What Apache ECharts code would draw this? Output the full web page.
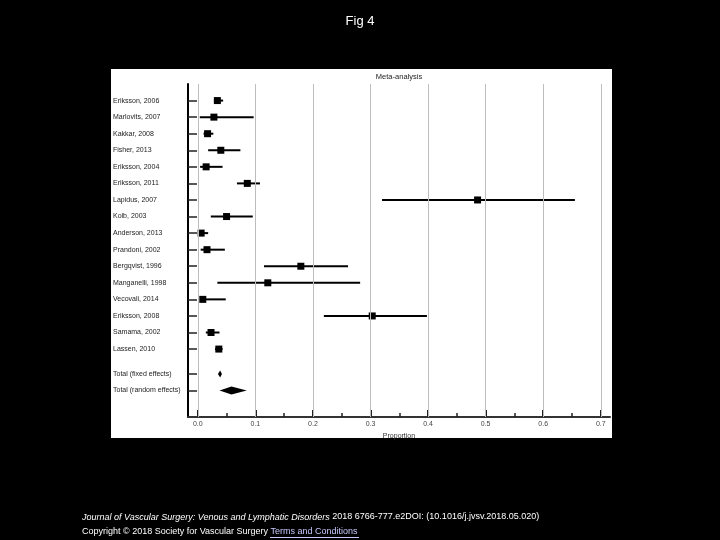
<!DOCTYPE html>
<html>
<head>
<meta charset="utf-8">
<script src="https://cdn.jsdelivr.net/npm/echarts@6/dist/echarts.min.js"></script>
<style>
html,body{margin:0;padding:0;background:#000;}
#c{width:720px;height:540px;}
</style>
</head>
<body>
<div id="c"></div>
<script>
const studies = ['Eriksson, 2006','Marlovits, 2007','Kakkar, 2008','Fisher, 2013','Eriksson, 2004','Eriksson, 2011','Lapidus, 2007','Kolb, 2003','Anderson, 2013','Prandoni, 2002','Bergqvist, 1996','Manganelli, 1998','Vecovali, 2014','Eriksson, 2008','Samama, 2002','Lassen, 2010'];
const estimates = [0.034,0.028,0.017,0.040,0.0145,0.086,0.486,0.050,0.0058,0.016,0.179,0.1216,0.0087,0.303,0.023,0.0365];
const lower = [0.028,0.0035,0.010,0.018,0.004,0.068,0.320,0.0226,0.001,0.005,0.115,0.034,0.004,0.219,0.014,0.030];
const upper = [0.044,0.097,0.027,0.074,0.043,0.108,0.655,0.0955,0.018,0.047,0.261,0.282,0.0486,0.398,0.0377,0.043];
const totalNames = ['Total (fixed effects)','Total (random effects)'];
const totalEst = [0.0388,0.0585];
const totalLo = [0.035,0.0377];
const totalHi = [0.042,0.085];
const xTicks = [0,0.1,0.2,0.3,0.4,0.5,0.6,0.7];
const xMinorTicks = [0.05,0.15,0.25,0.35,0.45,0.55,0.65];

// row positions (computed): studies 1..n, totals after a 1.5 gap
const rowPos = studies.map((s,i)=>i+1);
const totalPos = totalNames.map((s,j)=>studies.length+1.5+j);
const allPos = rowPos.concat(totalPos);
const allNames = studies.concat(totalNames);

const data = studies.map((s,i)=>[rowPos[i],estimates[i],lower[i],upper[i],0])
  .concat(totalNames.map((s,j)=>[totalPos[j],totalEst[j],totalLo[j],totalHi[j],j+1]));

const GRID_TOP = 84, GRID_BOTTOM = 123, H = 540;
const chart = echarts.init(document.getElementById('c'));
const FF = '"Liberation Sans", Arial, sans-serif';
chart.setOption({
  backgroundColor:'#000',
  animation:false,
  textStyle:{fontFamily:FF},
  title:{text:'Fig 4',left:'center',top:10,textStyle:{color:'#fff',fontSize:13,fontWeight:'normal',fontFamily:FF}},
  grid:{left:188,right:110,top:GRID_TOP,bottom:GRID_BOTTOM},
  xAxis:[{
    type:'value',min:-0.017,max:0.716,position:'bottom',
    name:'Proportion',nameLocation:'middle',nameGap:14,
    nameTextStyle:{color:'#333',fontSize:7},
    axisLine:{show:true,onZero:false,lineStyle:{color:'#333',width:2}},
    axisTick:{show:true,inside:true,length:7,customValues:xTicks,lineStyle:{color:'#222',width:2}},
    axisLabel:{show:true,customValues:xTicks,margin:4,color:'#444',fontSize:7,formatter:v=>v.toFixed(1)},
    splitLine:{show:false}
  },{
    type:'value',min:-0.017,max:0.716,position:'top',offset:-(H-GRID_TOP-GRID_BOTTOM),
    axisLine:{show:false,onZero:false},
    axisTick:{show:true,inside:false,length:4,customValues:xMinorTicks,lineStyle:{color:'#222',width:1.5}},
    axisLabel:{show:false},
    splitLine:{show:false}
  }],
  yAxis:{
    type:'value',inverse:true,min:0,max:20.1,
    axisLine:{show:true,onZero:false,lineStyle:{color:'#000',width:2}},
    axisTick:{show:true,inside:true,length:9,customValues:allPos,lineStyle:{color:'#222',width:1.5}},
    axisLabel:{show:true,customValues:allPos,align:'left',margin:75,color:'#222',fontSize:7,
      formatter:v=>{const k=allPos.indexOf(v);return k>=0?allNames[k]:'';}},
    splitLine:{show:false}
  },
  graphic:[
    {type:'rect',z:-10,shape:{x:111,y:69,width:501,height:369},style:{fill:'#fff'}},
    {type:'text',x:399,y:77,style:{text:'Meta-analysis',fill:'#222',fontSize:7.5,align:'center',verticalAlign:'middle',fontFamily:FF}},
    {type:'text',x:82,y:517,style:{
      text:'{i|Journal of Vascular Surgery: Venous and Lymphatic Disorders} 2018 6766-777.e2DOI: (10.1016/j.jvsv.2018.05.020)',
      fill:'#fff',fontSize:9,verticalAlign:'middle',fontFamily:FF,
      rich:{i:{fontStyle:'italic',fill:'#fff',fontSize:9,fontFamily:FF}}}},
    {type:'text',x:82,y:532,style:{
      text:'Copyright © 2018 Society for Vascular Surgery {l|Terms and Conditions}',
      fill:'#fff',fontSize:9,verticalAlign:'middle',fontFamily:FF,
      rich:{l:{fill:'#c8c8ff',fontSize:9,fontFamily:FF}}}},
    {type:'line',shape:{x1:270,y1:537.5,x2:359,y2:537.5},style:{stroke:'#c8c8ff',lineWidth:1}}
  ],
  series:[{
    type:'scatter',data:[],z:1,silent:true,
    markLine:{silent:true,symbol:'none',label:{show:false},
      lineStyle:{color:'#bdbdbd',width:1,type:'solid'},
      data:xTicks.map(v=>({xAxis:v}))}
  },{
    type:'custom',z:3,data:data,
    encode:{x:[1,2,3],y:0},
    renderItem:function(params,api){
      const y=api.value(0),e=api.value(1),lo=api.value(2),hi=api.value(3),t=api.value(4);
      const pe=api.coord([e,y]),pl=api.coord([lo,y]),ph=api.coord([hi,y]);
      if(t===0){
        const s=7;
        return {type:'group',children:[
          {type:'line',shape:{x1:pl[0],y1:pl[1],x2:ph[0],y2:ph[1]},style:{stroke:'#000',lineWidth:2}},
          {type:'rect',shape:{x:pe[0]-s/2,y:pe[1]-s/2,width:s,height:s},style:{fill:'#000'}}
        ]};
      }
      const h=t===1?3.5:4;
      return {type:'polygon',shape:{points:[[pl[0],pl[1]],[pe[0],pe[1]-h],[ph[0],ph[1]],[pe[0],pe[1]+h]]},style:{fill:'#000'}};
    }
  }]
});
</script>
</body>
</html>
